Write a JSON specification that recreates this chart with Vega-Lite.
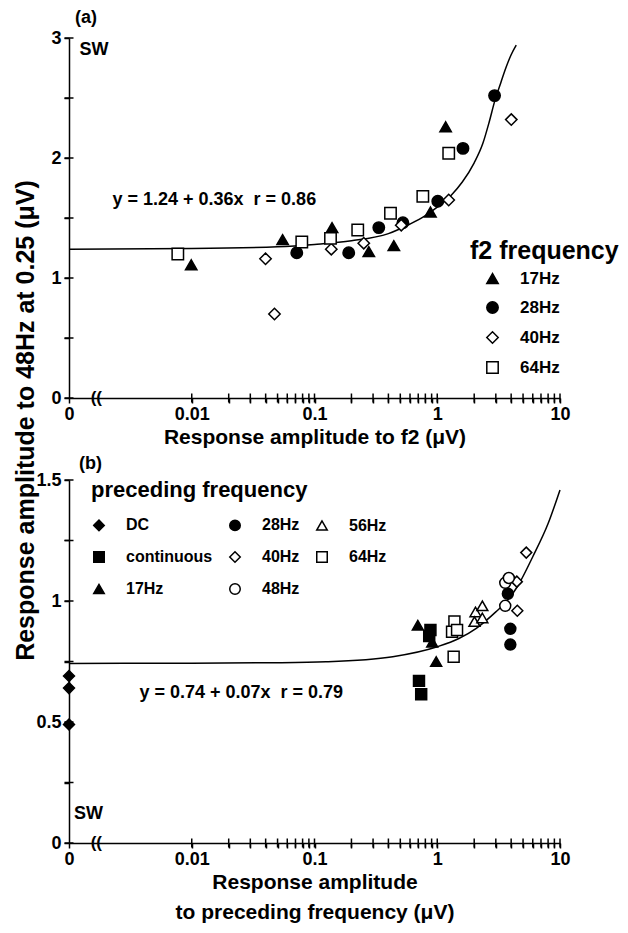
{
  "$schema": "https://vega.github.io/schema/vega-lite/v6.json",
  "autosize": {"type": "pad"},
  "padding": {"left": 13, "top": 9, "right": 0, "bottom": 5},
  "background": "white",
  "bounds": "flush",
  "spacing": 82,
  "config": {
    "font": "Liberation Sans",
    "view": {"stroke": null},
    "legend": {"labelFont": "Liberation Sans", "labelFontWeight": "bold", "labelColor": "black", "titleFont": "Liberation Sans", "titleColor": "black", "titleFontWeight": "bold", "titleLimit": 400, "labelLimit": 300},
    "title": {"font": "Liberation Sans", "fontWeight": "bold", "color": "black", "anchor": "start", "frame": "group"},
    "text": {"font": "Liberation Sans", "fontWeight": "bold", "color": "black"}
  },
  "resolve": {"scale": {"x": "independent", "y": "independent", "shape": "independent", "fill": "independent"}},
  "vconcat": [
    {
      "width": 491,
      "height": 360,
      "title": {"text": "(a)", "dx": 6, "offset": 2, "fontSize": 18},
      "encoding": {
        "x": {"field": "x", "type": "quantitative", "scale": {"type": "log", "domain": [0.001, 10]},
          "axis": {"title": "Response amplitude to f2 (μV)", "values": [0.001, 0.01, 0.02, 0.03, 0.04, 0.05, 0.06, 0.07, 0.08, 0.09, 0.1, 0.2, 0.3, 0.4, 0.5, 0.6, 0.7, 0.8, 0.9, 1, 2, 3, 4, 5, 6, 7, 8, 9, 10],
            "labelExpr": "datum.value < 0.002 ? '0' : (indexof([0.01, 0.1, 1, 10], datum.value) >= 0 ? format(datum.value, '~g') : '')",
            "grid": false, "ticks": true, "tickSize": 5, "tickWidth": 1.5, "tickColor": "#000000", "domainColor": "#000000", "domainWidth": 1.5,
            "labelFont": "Liberation Sans", "labelFontWeight": "bold", "labelFontSize": 18, "labelColor": "black", "labelOverlap": false, "labelFlush": false,
            "titleFont": "Liberation Sans", "titleFontWeight": "bold", "titleFontSize": 21, "titleColor": "black",
            "labelPadding": 2, "titlePadding": 3}},
        "y": {"field": "y", "type": "quantitative", "scale": {"domain": [0, 3], "nice": false},
          "axis": {"title": "Response amplitude to 48Hz at 0.25 (μV)", "values": [0, 0.5, 1, 1.5, 2, 2.5, 3],
            "labelExpr": "datum.value % 1 == 0 ? format(datum.value, 'd') : ''",
            "grid": false, "ticks": true, "tickSize": 5, "tickWidth": 1.5, "tickColor": "#000000", "domainColor": "#000000", "domainWidth": 1.5,
            "labelFont": "Liberation Sans", "labelFontWeight": "bold", "labelFontSize": 18, "labelColor": "black", "labelOverlap": false, "labelFlush": false,
            "titleFont": "Liberation Sans", "titleFontWeight": "bold", "titleColor": "black",
            "labelPadding": 3, "titleX": -31, "titleY": 382, "titleFontSize": 25, "titleAlign": "center", "titleBaseline": "bottom", "titleAngle": -90}}
      },
      "layer": [
        {
          "data": {"values": [
            {"x": 0.01, "y": 0}, {"x": 0.02, "y": 0}, {"x": 0.03, "y": 0}, {"x": 0.04, "y": 0}, {"x": 0.05, "y": 0}, {"x": 0.06, "y": 0}, {"x": 0.07, "y": 0}, {"x": 0.08, "y": 0}, {"x": 0.09, "y": 0},
            {"x": 0.1, "y": 0}, {"x": 0.2, "y": 0}, {"x": 0.3, "y": 0}, {"x": 0.4, "y": 0}, {"x": 0.5, "y": 0}, {"x": 0.6, "y": 0}, {"x": 0.7, "y": 0}, {"x": 0.8, "y": 0}, {"x": 0.9, "y": 0},
            {"x": 1, "y": 0}, {"x": 2, "y": 0}, {"x": 3, "y": 0}, {"x": 4, "y": 0}, {"x": 5, "y": 0}, {"x": 6, "y": 0}, {"x": 7, "y": 0}, {"x": 8, "y": 0}, {"x": 9, "y": 0}, {"x": 10, "y": 0}
          ]},
          "mark": {"type": "tick", "orient": "vertical", "size": 9, "thickness": 1.5, "color": "black", "opacity": 1}
        },
        {
          "data": {"values": [
            {"x": 0.001, "y": 0}, {"x": 0.001, "y": 0.5}, {"x": 0.001, "y": 1}, {"x": 0.001, "y": 1.5}, {"x": 0.001, "y": 2}, {"x": 0.001, "y": 2.5}, {"x": 0.001, "y": 3}
          ]},
          "mark": {"type": "tick", "orient": "horizontal", "size": 9, "thickness": 1.5, "color": "black", "opacity": 1}
        },
        {
          "data": {"values": [
            {"x": 0.001, "y": 1.24}, {"x": 0.01, "y": 1.245}, {"x": 0.05, "y": 1.26}, {"x": 0.1, "y": 1.28}, {"x": 0.2, "y": 1.31}, {"x": 0.4, "y": 1.37}, {"x": 0.6, "y": 1.45}, {"x": 0.8, "y": 1.52}, {"x": 1.0, "y": 1.59}, {"x": 1.3, "y": 1.69}, {"x": 1.6, "y": 1.8}, {"x": 2.0, "y": 1.96}, {"x": 2.35, "y": 2.12}, {"x": 2.65, "y": 2.3}, {"x": 2.95, "y": 2.48}, {"x": 3.3, "y": 2.63}, {"x": 3.65, "y": 2.76}, {"x": 4.0, "y": 2.86}, {"x": 4.4, "y": 2.94}
          ]},
          "mark": {"type": "line", "color": "black", "strokeWidth": 1.5, "interpolate": "monotone"}
        },
        {
          "data": {"values": [
            {"x": 0.0099, "y": 1.11, "f2": "17Hz"}, {"x": 0.055, "y": 1.32, "f2": "17Hz"}, {"x": 0.139, "y": 1.42, "f2": "17Hz"}, {"x": 0.277, "y": 1.22, "f2": "17Hz"}, {"x": 0.443, "y": 1.27, "f2": "17Hz"}, {"x": 0.88, "y": 1.55, "f2": "17Hz"}, {"x": 1.17, "y": 2.26, "f2": "17Hz"},
            {"x": 0.0717, "y": 1.21, "f2": "28Hz"}, {"x": 0.19, "y": 1.21, "f2": "28Hz"}, {"x": 0.334, "y": 1.42, "f2": "28Hz"}, {"x": 0.525, "y": 1.46, "f2": "28Hz"}, {"x": 1.01, "y": 1.64, "f2": "28Hz"}, {"x": 1.62, "y": 2.08, "f2": "28Hz"}, {"x": 2.93, "y": 2.52, "f2": "28Hz"},
            {"x": 0.0399, "y": 1.16, "f2": "40Hz"}, {"x": 0.0472, "y": 0.7, "f2": "40Hz"}, {"x": 0.137, "y": 1.24, "f2": "40Hz"}, {"x": 0.252, "y": 1.29, "f2": "40Hz"}, {"x": 0.509, "y": 1.44, "f2": "40Hz"}, {"x": 1.24, "y": 1.65, "f2": "40Hz"}, {"x": 4.01, "y": 2.32, "f2": "40Hz"},
            {"x": 0.0077, "y": 1.2, "f2": "64Hz"}, {"x": 0.0788, "y": 1.3, "f2": "64Hz"}, {"x": 0.135, "y": 1.33, "f2": "64Hz"}, {"x": 0.225, "y": 1.4, "f2": "64Hz"}, {"x": 0.416, "y": 1.54, "f2": "64Hz"}, {"x": 0.763, "y": 1.68, "f2": "64Hz"}, {"x": 1.24, "y": 2.04, "f2": "64Hz"}
          ]},
          "mark": {"type": "point", "filled": true, "stroke": "black", "strokeWidth": 1.5, "size": 130, "opacity": 1},
          "encoding": {
            "shape": {"field": "f2", "type": "nominal", "scale": {"domain": ["17Hz", "28Hz", "40Hz", "64Hz"], "range": ["triangle-up", "circle", "diamond", "square"]},
              "legend": {"title": "f2 frequency", "orient": "none", "legendX": 401, "legendY": 201, "titleFontSize": 25, "titlePadding": 6, "labelFontSize": 17, "labelOffset": 19, "symbolOffset": 14, "rowPadding": 11, "symbolSize": 130,
                "encode": {"symbols": {"update": {"stroke": {"value": "black"}, "strokeWidth": {"value": 1.5}}}}}},
            "fill": {"field": "f2", "type": "nominal", "scale": {"domain": ["17Hz", "28Hz", "40Hz", "64Hz"], "range": ["black", "black", "white", "white"]},
              "legend": {"title": "f2 frequency", "orient": "none", "legendX": 401, "legendY": 201, "titleFontSize": 25, "titlePadding": 6, "labelFontSize": 17, "labelOffset": 19, "symbolOffset": 14, "rowPadding": 11, "symbolSize": 130,
                "encode": {"symbols": {"update": {"stroke": {"value": "black"}, "strokeWidth": {"value": 1.5}}}}}}
          }
        },
        {
          "data": {"values": [{"x": 0.00226, "y": 1.65, "note": "y = 1.24 + 0.36x\u00a0\u00a0r = 0.86"}, {"x": 0.00122, "y": 2.9, "note": "SW"}]},
          "mark": {"type": "text", "align": "left", "baseline": "middle", "fontSize": 18},
          "encoding": {"text": {"field": "note"}}
        },
        {
          "data": {"values": [{"x": 0.00167, "y": 0, "note": "(("}]},
          "mark": {"type": "text", "align": "center", "baseline": "middle", "fontSize": 17},
          "encoding": {"text": {"field": "note"}}
        }
      ]
    },
    {
      "width": 491,
      "height": 363,
      "title": {"text": "(b)", "dx": 10, "offset": -2, "fontSize": 18},
      "encoding": {
        "x": {"field": "x", "type": "quantitative", "scale": {"type": "log", "domain": [0.001, 10]},
          "axis": {"title": ["Response amplitude", "to preceding frequency (μV)"], "titleLineHeight": 30, "values": [0.001, 0.01, 0.02, 0.03, 0.04, 0.05, 0.06, 0.07, 0.08, 0.09, 0.1, 0.2, 0.3, 0.4, 0.5, 0.6, 0.7, 0.8, 0.9, 1, 2, 3, 4, 5, 6, 7, 8, 9, 10],
            "labelExpr": "datum.value < 0.002 ? '0' : (indexof([0.01, 0.1, 1, 10], datum.value) >= 0 ? format(datum.value, '~g') : '')",
            "grid": false, "ticks": true, "tickSize": 5, "tickWidth": 1.5, "tickColor": "#000000", "domainColor": "#000000", "domainWidth": 1.5,
            "labelFont": "Liberation Sans", "labelFontWeight": "bold", "labelFontSize": 18, "labelColor": "black", "labelOverlap": false, "labelFlush": false,
            "titleFont": "Liberation Sans", "titleFontWeight": "bold", "titleFontSize": 21, "titleColor": "black",
            "labelPadding": 2, "titlePadding": 3}},
        "y": {"field": "y", "type": "quantitative", "scale": {"domain": [0, 1.5], "nice": false},
          "axis": {"title": null, "values": [0, 0.25, 0.5, 0.75, 1, 1.25, 1.5],
            "labelExpr": "(datum.value * 2) % 1 == 0 ? format(datum.value, '~g') : ''",
            "grid": false, "ticks": true, "tickSize": 5, "tickWidth": 1.5, "tickColor": "#000000", "domainColor": "#000000", "domainWidth": 1.5,
            "labelFont": "Liberation Sans", "labelFontWeight": "bold", "labelFontSize": 18, "labelColor": "black", "labelOverlap": false, "labelFlush": false,
            "labelPadding": 3}}
      },
      "layer": [
        {
          "data": {"values": [
            {"x": 0.01, "y": 0}, {"x": 0.02, "y": 0}, {"x": 0.03, "y": 0}, {"x": 0.04, "y": 0}, {"x": 0.05, "y": 0}, {"x": 0.06, "y": 0}, {"x": 0.07, "y": 0}, {"x": 0.08, "y": 0}, {"x": 0.09, "y": 0},
            {"x": 0.1, "y": 0}, {"x": 0.2, "y": 0}, {"x": 0.3, "y": 0}, {"x": 0.4, "y": 0}, {"x": 0.5, "y": 0}, {"x": 0.6, "y": 0}, {"x": 0.7, "y": 0}, {"x": 0.8, "y": 0}, {"x": 0.9, "y": 0},
            {"x": 1, "y": 0}, {"x": 2, "y": 0}, {"x": 3, "y": 0}, {"x": 4, "y": 0}, {"x": 5, "y": 0}, {"x": 6, "y": 0}, {"x": 7, "y": 0}, {"x": 8, "y": 0}, {"x": 9, "y": 0}, {"x": 10, "y": 0}
          ]},
          "mark": {"type": "tick", "orient": "vertical", "size": 9, "thickness": 1.5, "color": "black", "opacity": 1}
        },
        {
          "data": {"values": [
            {"x": 0.001, "y": 0}, {"x": 0.001, "y": 0.25}, {"x": 0.001, "y": 0.5}, {"x": 0.001, "y": 0.75}, {"x": 0.001, "y": 1}, {"x": 0.001, "y": 1.25}, {"x": 0.001, "y": 1.5}
          ]},
          "mark": {"type": "tick", "orient": "horizontal", "size": 9, "thickness": 1.5, "color": "black", "opacity": 1}
        },
        {
          "data": {"values": [
            {"x": 0.001, "y": 0.742}, {"x": 0.01, "y": 0.743}, {"x": 0.05, "y": 0.745}, {"x": 0.124, "y": 0.749}, {"x": 0.434, "y": 0.77}, {"x": 1.0, "y": 0.811}, {"x": 1.5, "y": 0.845}, {"x": 2.08, "y": 0.887}, {"x": 3.0, "y": 0.955}, {"x": 3.65, "y": 0.997}, {"x": 4.5, "y": 1.06}, {"x": 6.0, "y": 1.183}, {"x": 8.0, "y": 1.32}, {"x": 10.0, "y": 1.459}
          ]},
          "mark": {"type": "line", "color": "black", "strokeWidth": 1.5, "interpolate": "monotone"}
        },
        {
          "data": {"values": [
            {"x": 0.001, "y": 0.69, "prec": "DC"}, {"x": 0.001, "y": 0.64, "prec": "DC"}, {"x": 0.001, "y": 0.49, "prec": "DC"},
            {"x": 0.88, "y": 0.88, "prec": "continuous"}, {"x": 0.86, "y": 0.855, "prec": "continuous"}, {"x": 0.71, "y": 0.67, "prec": "continuous"}, {"x": 0.74, "y": 0.615, "prec": "continuous"},
            {"x": 0.695, "y": 0.9, "prec": "17Hz"}, {"x": 0.91, "y": 0.83, "prec": "17Hz"}, {"x": 0.98, "y": 0.75, "prec": "17Hz"},
            {"x": 3.94, "y": 0.885, "prec": "28Hz"}, {"x": 3.94, "y": 0.82, "prec": "28Hz"}, {"x": 3.76, "y": 1.03, "prec": "28Hz"},
            {"x": 5.31, "y": 1.2, "prec": "40Hz"}, {"x": 4.45, "y": 1.08, "prec": "40Hz"}, {"x": 4.49, "y": 0.96, "prec": "40Hz"},
            {"x": 3.58, "y": 1.075, "prec": "48Hz"}, {"x": 3.83, "y": 1.095, "prec": "48Hz"}, {"x": 3.58, "y": 0.98, "prec": "48Hz"},
            {"x": 2.05, "y": 0.955, "prec": "56Hz"}, {"x": 2.33, "y": 0.98, "prec": "56Hz"}, {"x": 2.01, "y": 0.915, "prec": "56Hz"}, {"x": 2.33, "y": 0.93, "prec": "56Hz"},
            {"x": 1.38, "y": 0.915, "prec": "64Hz"}, {"x": 1.32, "y": 0.873, "prec": "64Hz"}, {"x": 1.45, "y": 0.88, "prec": "64Hz"}, {"x": 1.36, "y": 0.77, "prec": "64Hz"}
          ]},
          "mark": {"type": "point", "filled": true, "stroke": "black", "strokeWidth": 1.5, "size": 120, "opacity": 1},
          "encoding": {
            "shape": {"field": "prec", "type": "nominal", "scale": {"domain": ["DC", "continuous", "17Hz", "28Hz", "40Hz", "48Hz", "56Hz", "64Hz"], "range": ["diamond", "square", "triangle-up", "circle", "diamond", "circle", "triangle-up", "square"]},
              "legend": {"title": "preceding frequency", "orient": "none", "legendX": 22, "legendY": 0, "columns": 3, "gridAlign": "each", "columnPadding": 13, "rowPadding": 14, "titleFontSize": 22, "titlePadding": 15, "labelFontSize": 16, "labelOffset": 19, "symbolSize": 110,
                "encode": {"symbols": {"update": {"stroke": {"value": "black"}, "strokeWidth": {"value": 1.5}}}}}},
            "fill": {"field": "prec", "type": "nominal", "scale": {"domain": ["DC", "continuous", "17Hz", "28Hz", "40Hz", "48Hz", "56Hz", "64Hz"], "range": ["black", "black", "black", "black", "white", "white", "white", "white"]},
              "legend": {"title": "preceding frequency", "orient": "none", "legendX": 22, "legendY": 0, "columns": 3, "gridAlign": "each", "columnPadding": 13, "rowPadding": 14, "titleFontSize": 22, "titlePadding": 15, "labelFontSize": 16, "labelOffset": 19, "symbolSize": 110,
                "encode": {"symbols": {"update": {"stroke": {"value": "black"}, "strokeWidth": {"value": 1.5}}}}}}
          }
        },
        {
          "data": {"values": [{"x": 0.00375, "y": 0.619, "note": "y = 0.74 + 0.07x\u00a0\u00a0r = 0.79"}, {"x": 0.0011, "y": 0.12, "note": "SW"}]},
          "mark": {"type": "text", "align": "left", "baseline": "middle", "fontSize": 18},
          "encoding": {"text": {"field": "note"}}
        },
        {
          "data": {"values": [{"x": 0.00167, "y": 0, "note": "(("}]},
          "mark": {"type": "text", "align": "center", "baseline": "middle", "fontSize": 17},
          "encoding": {"text": {"field": "note"}}
        }
      ]
    }
  ]
}
